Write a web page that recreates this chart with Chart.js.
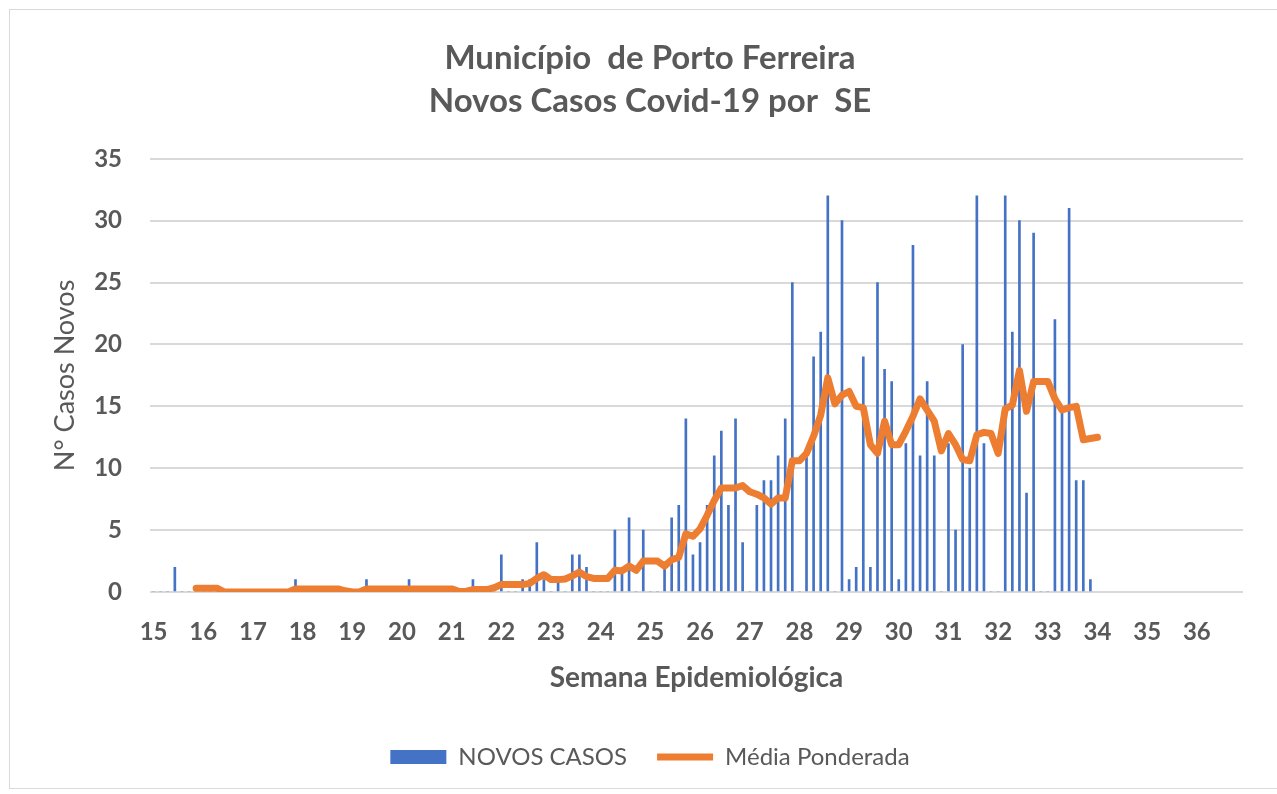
<!DOCTYPE html>
<html>
<head>
<meta charset="utf-8">
<script src="https://cdn.jsdelivr.net/npm/chart.js@4.4.1/dist/chart.umd.min.js"></script>
<style>
  html, body { margin: 0; padding: 0; background: #fff; overflow: hidden; }
  #wrap { position: absolute; left: 9px; top: 9px; width: 1280px; height: 778px; border: 1px solid #d9d9d9; }
</style>
</head>
<body>
<div id="wrap"><canvas id="chart" width="1280" height="778"></canvas></div>
<script>
// semanas epidemiologicas (rotulos do eixo x)
const semanas = [15, 16, 17, 18, 19, 20, 21, 22, 23, 24, 25, 26, 27, 28, 29, 30, 31, 32, 33, 34, 35, 36];

// novos casos por dia, a partir do 1o dia da SE 15 (uma linha por semana)
const novosCasos = [
  0, 0, 0, 2, 0, 0, 0,
  0, 0, 0, 0, 0, 0, 0,
  0, 0, 0, 0, 0, 0, 1,
  0, 0, 0, 0, 0, 0, 0,
  0, 0, 1, 0, 0, 0, 0,
  0, 1, 0, 0, 0, 0, 0,
  0, 0, 0, 1, 0, 0, 0,
  3, 0, 0, 1, 1, 4, 1,
  0, 1, 0, 3, 3, 2, 0,
  0, 0, 5, 2, 6, 0, 5,
  0, 0, 2, 6, 7, 14, 3,
  4, 7, 11, 13, 7, 14, 4,
  0, 7, 9, 9, 11, 14, 25,
  0, 11, 19, 21, 32, 0, 30,
  1, 2, 19, 2, 25, 18, 17,
  1, 12, 28, 11, 17, 11, 0,
  12, 5, 20, 10, 32, 12, 0,
  0, 32, 21, 30, 8, 29, 0,
  0, 22, 15, 31, 9, 9, 1
];

// media ponderada por dia, mesmo inicio
const mediaPonderada = [
  null, null, null, null, null, null, 0.3,
  0.3, 0.3, 0.3, 0, 0, 0, 0,
  0, 0, 0, 0, 0, 0, 0.25,
  0.25, 0.25, 0.25, 0.25, 0.25, 0.25, 0.1,
  0, 0, 0.25, 0.25, 0.25, 0.25, 0.25,
  0.25, 0.25, 0.25, 0.25, 0.25, 0.25, 0.25,
  0.25, 0.05, 0.05, 0.2, 0.2, 0.2, 0.35,
  0.6, 0.6, 0.6, 0.6, 0.7, 1.1, 1.4,
  1.0, 1.0, 1.05, 1.3, 1.6, 1.25, 1.1,
  1.1, 1.1, 1.75, 1.7, 2.1, 1.75, 2.5,
  2.5, 2.5, 2.1, 2.6, 2.8, 4.7, 4.5,
  5.1, 6.2, 7.4, 8.4, 8.4, 8.4, 8.6,
  8.1, 7.9, 7.6, 7.1, 7.6, 7.6, 10.6,
  10.6, 11.2, 12.6, 14.3, 17.3, 15.2, 15.9,
  16.2, 15.0, 14.9, 11.9, 11.2, 13.8, 11.9,
  11.9, 13.0, 14.2, 15.6, 14.7, 13.8, 11.4,
  12.8, 11.9, 10.7, 10.6, 12.7, 12.9, 12.8,
  11.2, 14.8, 15.1, 17.9, 14.6, 17.0, 17.0,
  17.0, 15.6, 14.7, 14.9, 15.0, 12.3, 12.4,
  12.5
];

const cinza = '#595959';
const fonte = 'Lato';

// cada dia ocupa 1/7 de semana no eixo
const diaParaX = (i) => semanas[0] + i / 7;

const barras = novosCasos.map((v, i) => ({ x: diaParaX(i), y: v }));
const linha = mediaPonderada
  .map((v, i) => ({ x: diaParaX(i), y: v }))
  .filter(p => p.y !== null);

const config = {
  type: 'bar',
  data: {
    datasets: [
      {
        type: 'bar',
        label: 'NOVOS CASOS',
        data: barras,
        backgroundColor: '#4472C4',
        borderWidth: 0,
        barThickness: 2,
        pointStyle: 'rect',
        order: 1,
      },
      {
        type: 'line',
        label: 'Média Ponderada',
        data: linha,
        borderColor: '#ED7D31',
        backgroundColor: '#ED7D31',
        borderWidth: 7,
        borderCapStyle: 'round',
        borderJoinStyle: 'round',
        pointRadius: 0,
        pointStyle: 'line',
        tension: 0,
        order: 0,
      },
    ],
  },
  options: {
    responsive: false,
    animation: false,
    devicePixelRatio: 1,
    layout: { padding: { left: 0, right: 0, top: 0, bottom: 9 } },
    scales: {
      x: {
        type: 'linear',
        offset: false,
        min: semanas[0] - 1 / 14,
        max: semanas[semanas.length - 1] + 1 - 1 / 14,
        afterBuildTicks: (scale) => { scale.ticks = semanas.map(v => ({ value: v })); },
        afterFit: (scale) => { scale.height = 123; },
        grid: { display: false, drawTicks: false },
        border: { display: false },
        ticks: {
          autoSkip: false,
          maxRotation: 0,
          padding: 26,
          color: cinza,
          font: { family: fonte, size: 24, weight: 'bold' },
        },
        title: {
          display: true,
          text: 'Semana Epidemiológica',
          color: cinza,
          font: { family: fonte, size: 28, weight: 'bold' },
          padding: { top: 0, bottom: 20 },
        },
      },
      y: {
        min: 0,
        max: 35,
        afterFit: (scale) => { scale.width = 140; },
        grid: { color: '#d9d9d9', lineWidth: 2, drawTicks: false },
        border: { display: false },
        ticks: {
          stepSize: 5,
          padding: 28,
          color: cinza,
          font: { family: fonte, size: 24, weight: 'bold' },
        },
        title: {
          display: true,
          text: 'N° Casos Novos',
          color: cinza,
          font: { family: fonte, size: 27 },
          padding: { top: 39, bottom: 0 },
        },
      },
      direita: {
        position: 'right',
        afterFit: (scale) => { scale.width = 47; },
        grid: { display: false, drawTicks: false },
        border: { display: false },
        ticks: { display: false },
      },
    },
    plugins: {
      title: {
        display: true,
        text: ['Município  de Porto Ferreira', 'Novos Casos Covid-19 por  SE'],
        color: cinza,
        font: { family: fonte, size: 33, weight: 'bold', lineHeight: 1.3 },
        padding: { top: 27, bottom: 36 },
      },
      legend: {
        position: 'bottom',
        labels: {
          usePointStyle: true,
          pointStyleWidth: 56,
          boxHeight: 14,
          padding: 30,
          color: cinza,
          font: { family: fonte, size: 24 },
          sort: (a, b) => a.datasetIndex - b.datasetIndex,
        },
      },
      tooltip: { enabled: false },
    },
  },
};

new Chart(document.getElementById('chart'), config);
</script>
</body>
</html>
